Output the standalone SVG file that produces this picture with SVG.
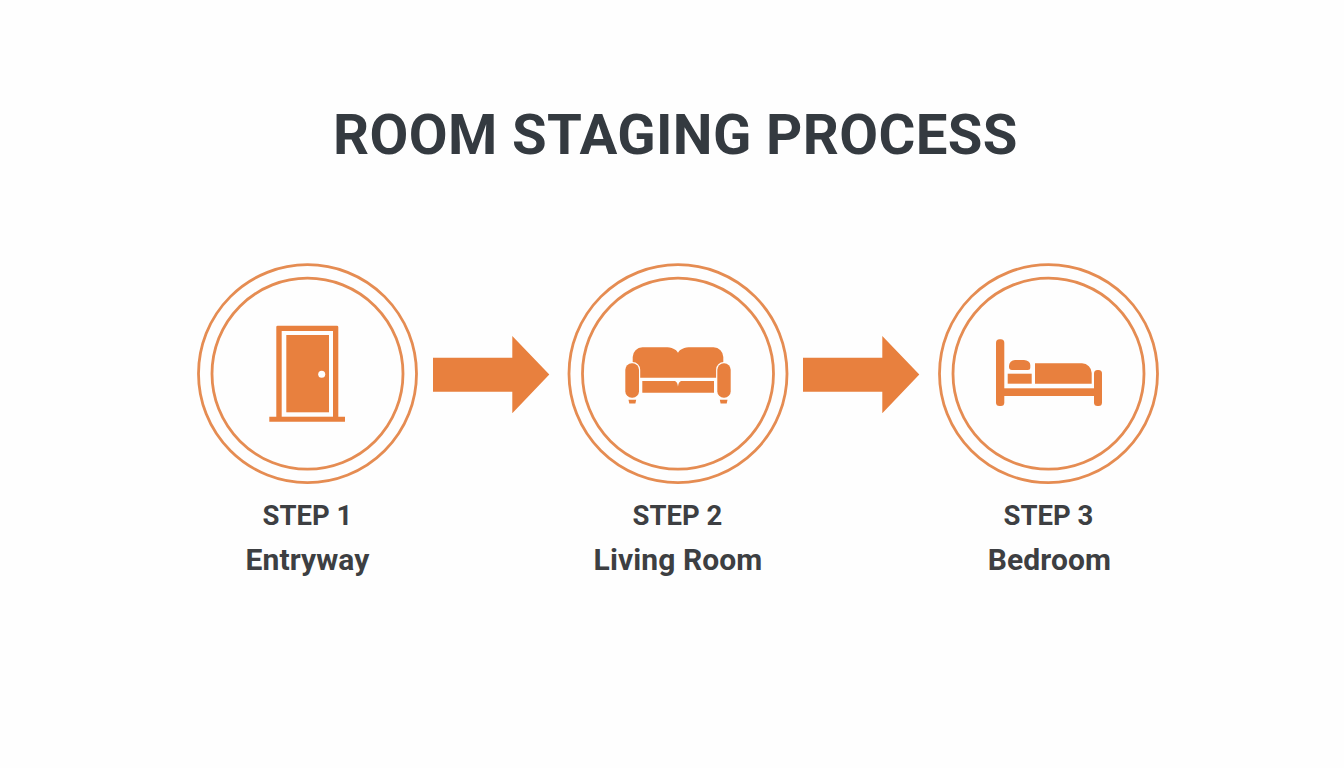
<svg xmlns="http://www.w3.org/2000/svg" width="1344" height="768" viewBox="0 0 1344 768">
<style>
.ring{fill:none;stroke:#e58c52;stroke-width:2.8}
.ic{fill:#e8803e}
.hole{fill:#fefefe}
.arm{fill:#e8803e;stroke:#fefefe;stroke-width:2.4;paint-order:stroke}
.arrow{fill:#e8803e}
text{font-family:Roboto,"Liberation Sans",sans-serif;font-weight:700;text-anchor:middle}
.title{font-size:56.3px;fill:#343a40;letter-spacing:.4px}
.step{font-size:27.500px;fill:#3d3f42}
.name{font-size:30px;fill:#3d3f42;letter-spacing:.1px}
</style>
<rect width="1344" height="768" fill="#fefefe"/>
<text class="title" x="675.500" y="154.300">ROOM STAGING PROCESS</text>
<g id="connectors">
<path class="arrow" d="M433 357.700H512.300V336L549.300 374.500L512.300 413.300V391.700H433Z"/>
<path class="arrow" d="M803 357.700H882.300V336L919.300 374.500L882.300 413.300V391.700H803Z"/>
</g>
<g id="step1">
<circle class="ring" cx="307.500" cy="373.700" r="109"/>
<circle class="ring" cx="307.500" cy="373.700" r="95.500"/>
<path class="ic" d="M276.300 327a1.300 1.300 0 0 1 1.300-1.300h59.400a1.300 1.300 0 0 1 1.300 1.300V416.700h6.700v5H269.300v-5h7Z"/>
<rect class="hole" x="281.700" y="331" width="51.300" height="85.700"/>
<rect class="ic" x="286.300" y="335" width="42.700" height="77.300"/>
<circle class="hole" cx="321.700" cy="374.300" r="3.500"/>
<text class="step" x="307.500" y="525">STEP 1</text>
<text class="name" x="307.500" y="570">Entryway</text>
</g>
<g id="step2">
<circle class="ring" cx="678" cy="373.700" r="109"/>
<circle class="ring" cx="678" cy="373.700" r="95.500"/>
<path class="ic" d="M632.700 377.700V357a9.700 9.700 0 0 1 9.700-9.700H665c7 0 11 2 13 5.400c2-3.400 6-5.400 13-5.400h22.600a9.700 9.700 0 0 1 9.700 9.700V377.700Z"/>
<path class="ic" d="M642.300 381H674c2 0 3.500 1.500 4 5.700c.5-4.200 2-5.700 4-5.700H714V392.700H642.300Z"/>
<rect class="arm" x="625.300" y="363.300" width="13.700" height="34.400" rx="6.500"/>
<rect class="arm" x="717.300" y="363.300" width="13.400" height="34.400" rx="6.500"/>
<path class="ic" d="M628.500 399.800H636.200L635.400 403.500H629.300Z"/>
<path class="ic" d="M719.800 399.800H727.500L726.700 403.500H720.600Z"/>
<text class="step" x="677.500" y="525">STEP 2</text>
<text class="name" x="678" y="570">Living Room</text>
</g>
<g id="step3">
<circle class="ring" cx="1048.500" cy="373.700" r="109"/>
<circle class="ring" cx="1048.500" cy="373.700" r="95.500"/>
<rect class="ic" x="996" y="339.300" width="8.300" height="66.700" rx="3.500"/>
<rect class="ic" x="1094" y="370" width="8" height="36" rx="3.500"/>
<rect class="ic" x="1004" y="388.300" width="90" height="7.700"/>
<path class="ic" d="M1015 360h9a6.500 5 0 0 1 6.300 5v2.500a2.500 2.500 0 0 1-2.500 2.500H1012a3 3 0 0 1-3-3v-1a6 6 0 0 1 6-6Z"/>
<rect class="ic" x="1007.700" y="373.700" width="24" height="10"/>
<path class="ic" d="M1035 363.300H1082a9.700 9.700 0 0 1 9.700 9.700V383.700H1035Z"/>
<text class="step" x="1048.500" y="525">STEP 3</text>
<text class="name" x="1049.500" y="570">Bedroom</text>
</g>
</svg>
